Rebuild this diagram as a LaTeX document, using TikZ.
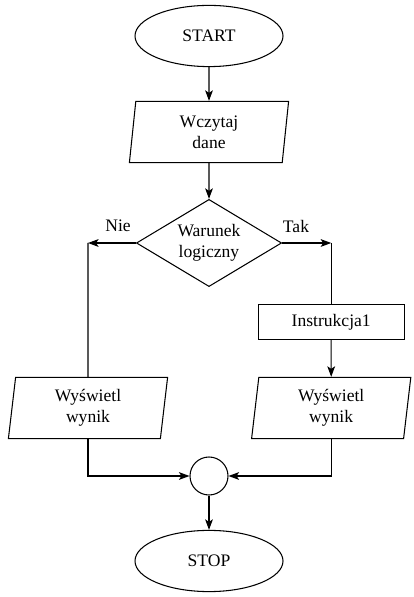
\documentclass[tikz,border=0pt]{standalone}
\usepackage{fontspec}
\setmainfont{Liberation Serif}
\usepackage{tikz}
\usetikzlibrary{arrows.meta,shapes.geometric}

\begin{document}
\begin{tikzpicture}[>={Stealth[length=7.5pt,width=5.5pt,inset=1.8pt]},line width=0.75pt,
  font=\fontsize{12.5}{15}\selectfont,
  term/.style={draw,ellipse,minimum width=3.7cm,minimum height=1.53cm,inner sep=0pt},
  io/.style={draw,trapezium,trapezium left angle=79,trapezium right angle=101,
    trapezium stretches body,minimum width=3.98cm,minimum height=1.53cm,inner sep=0pt,align=center},
  decision/.style={draw,diamond,shape aspect=1.67,minimum width=3.63cm,minimum height=2.18cm,inner sep=0pt,align=center},
  process/.style={draw,rectangle,minimum width=3.65cm,minimum height=0.88cm,inner sep=0pt},
  joint/.style={draw,circle,minimum size=0.95cm,inner sep=0pt}]
\useasboundingbox (0,0) rectangle (10.325,14.925);
\node[term] (start) at (5.225,14.025) {START};
\node[io] (read) at (5.225,11.625) {Wczytaj\\dane};
\node[decision] (cond) at (5.225,8.85) {Warunek\\logiczny};
\coordinate (nie) at (2.2,8.85);
\coordinate (tak) at (8.28,8.85);
\node (nielabel) at (2.95,9.27) {Nie};
\node (taklabel) at (7.4,9.27) {Tak};
\node[process] (instr) at (8.28,6.875) {Instrukcja1};
\node[io] (outL) at (2.2,4.725) {Wyświetl\\wynik};
\node[io] (outR) at (8.28,4.725) {Wyświetl\\wynik};
\node[joint] (join) at (5.225,3.025) {};
\node[term] (stop) at (5.225,0.9) {STOP};
\draw[->] (start) -- (read);
\draw[->] (read) -- (cond);
\draw[->] (cond.west) -- (nie);
\draw (nie) -- (outL);
\draw[->] (cond.east) -- (tak);
\draw (tak) -- (instr);
\draw[->] (instr) -- (outR);
\draw[->] (outL) |- (join);
\draw[->] (outR) |- (join);
\draw[->] (join) -- (stop);
\end{tikzpicture}
\end{document}
